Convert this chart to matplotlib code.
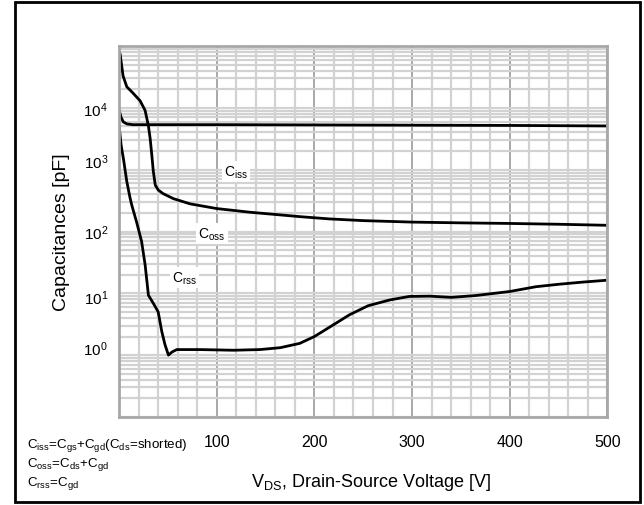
import matplotlib.pyplot as plt
import matplotlib.patches as mpatches
import matplotlib.transforms as mtrans
from matplotlib.ticker import LogLocator, NullFormatter, MultipleLocator
import numpy as np

plt.rcParams['font.family'] = ['Liberation Sans', 'DejaVu Sans']

# values (V_DS in V, capacitance in pF)
ciss_v = [0, 1, 2, 4.4, 8, 14, 20, 100, 200, 300, 400, 500]
ciss_c = [9300, 8000, 7000, 5900, 5500, 5350, 5350, 5350, 5300, 5250, 5200, 5100]

coss_v = [0, 1, 4, 7.8, 14.7, 21.5, 26.6, 30, 31.8, 33.5, 35, 37, 40, 45, 55.6,
          72.7, 100, 134, 185, 215, 250, 300, 350, 400, 450, 500]
coss_c = [80000, 74000, 33000, 22000, 17000, 13000, 9100, 5100, 3160, 1700, 940,
          565, 470, 410, 340, 280, 235, 205, 174, 160, 150, 142, 138, 135, 131, 126]

crss_v = [0, 2, 4.4, 7.8, 11, 13, 18, 23, 26.6, 30, 35, 40, 43.7, 47, 50.5, 54,
          59, 83, 117, 144, 165, 185, 200, 215, 236, 255, 277, 297, 318, 340,
          365, 400, 427, 450, 475, 500]
crss_c = [5100, 2500, 1500, 650, 360, 265, 140, 69, 29, 9.3, 6.9, 5.0, 2.4, 1.47,
          1.0, 1.12, 1.23, 1.23, 1.2, 1.23, 1.32, 1.55, 2.0, 2.8, 4.5, 6.3, 7.8,
          8.9, 9.0, 8.6, 9.2, 10.7, 12.8, 14, 15.2, 16.3]

x_ticks = [0, 100, 200, 300, 400, 500]
x_labels = ['', '100', '200', '300', '400', '500']
y_ticks = [1e-1, 1e0, 1e1, 1e2, 1e3, 1e4, 1e5]
y_labels = ['', r'$\mathregular{10^0}$', r'$\mathregular{10^1}$', r'$\mathregular{10^2}$',
            r'$\mathregular{10^3}$', r'$\mathregular{10^4}$', '']
# the printed labels sit a little off some decade lines (pixels, + is up)
y_label_shift = [0, 8, -3, 0, 9, 0, 0]

fig = plt.figure(figsize=(6.44, 5.06), dpi=100)
ax = fig.add_axes([0.185, 0.174, 0.758, 0.733])

ax.set_yscale('log')
ax.set_xlim(0, 500)
ax.set_ylim(1e-1, 1e5)

ax.set_xticks(x_ticks)
ax.set_xticklabels(x_labels)
ax.xaxis.set_minor_locator(MultipleLocator(20))
ax.set_yticks(y_ticks)
ax.set_yticklabels(y_labels)
ax.yaxis.set_minor_locator(LogLocator(base=10, subs=np.arange(2, 10)))
ax.yaxis.set_minor_formatter(NullFormatter())
ax.tick_params(which='both', length=0)
ax.tick_params(axis='x', pad=12, labelsize=11.5)
ax.tick_params(axis='y', pad=8, labelsize=11)
for lab, dy in zip(ax.get_yticklabels(), y_label_shift):
    lab.set_transform(lab.get_transform() + mtrans.ScaledTranslation(0, dy / 100, fig.dpi_scale_trans))

# paper-like grid
ax.grid(which='minor', color='#d2d2d2', lw=1.6)
ax.grid(which='major', axis='y', color='#d2d2d2', lw=1.6)
ax.grid(which='major', axis='x', color='#a8a8a8', lw=1.4)
ax.set_axisbelow(True)
for s in ax.spines.values():
    s.set_color('#a8a8a8')
    s.set_linewidth(2)

ax.plot(ciss_v, ciss_c, color='black', lw=2)
ax.plot(coss_v, coss_c, color='black', lw=2)
ax.plot(crss_v, crss_c, color='black', lw=2)

box = dict(facecolor='white', edgecolor='none', pad=1.5)
ax.text(120, 930, r'$\mathregular{C_{iss}}$', fontsize=10, ha='center', va='center', bbox=box)
ax.text(95, 93, r'$\mathregular{C_{oss}}$', fontsize=10, ha='center', va='center', bbox=box)
ax.text(67, 18, r'$\mathregular{C_{rss}}$', fontsize=10, ha='center', va='center', bbox=box)

ax.set_xlabel(r'$\mathregular{V_{DS}}$, Drain-Source Voltage [V]', fontsize=13, labelpad=9)
ax.xaxis.set_label_coords(0.515, -0.145)
ax.set_ylabel('Capacitances [pF]', fontsize=14, labelpad=10)

notes = [r'$\mathregular{C_{iss}}$=$\mathregular{C_{gs}}$+$\mathregular{C_{gd}}$($\mathregular{C_{ds}}$=shorted)',
         r'$\mathregular{C_{oss}}$=$\mathregular{C_{ds}}$+$\mathregular{C_{gd}}$',
         r'$\mathregular{C_{rss}}$=$\mathregular{C_{gd}}$']
for i, t in enumerate(notes):
    fig.text(27 / 644, 1 - (446 + 18.5 * i) / 506, t, fontsize=9.6, ha='left', va='center')

# outer frame of the datasheet figure
fig.patches.append(mpatches.Rectangle((15 / 644, 3 / 506), 625 / 644, 500 / 506,
                                      transform=fig.transFigure, fill=False,
                                      edgecolor='black', lw=2))

fig.savefig('out.png', dpi=100)
